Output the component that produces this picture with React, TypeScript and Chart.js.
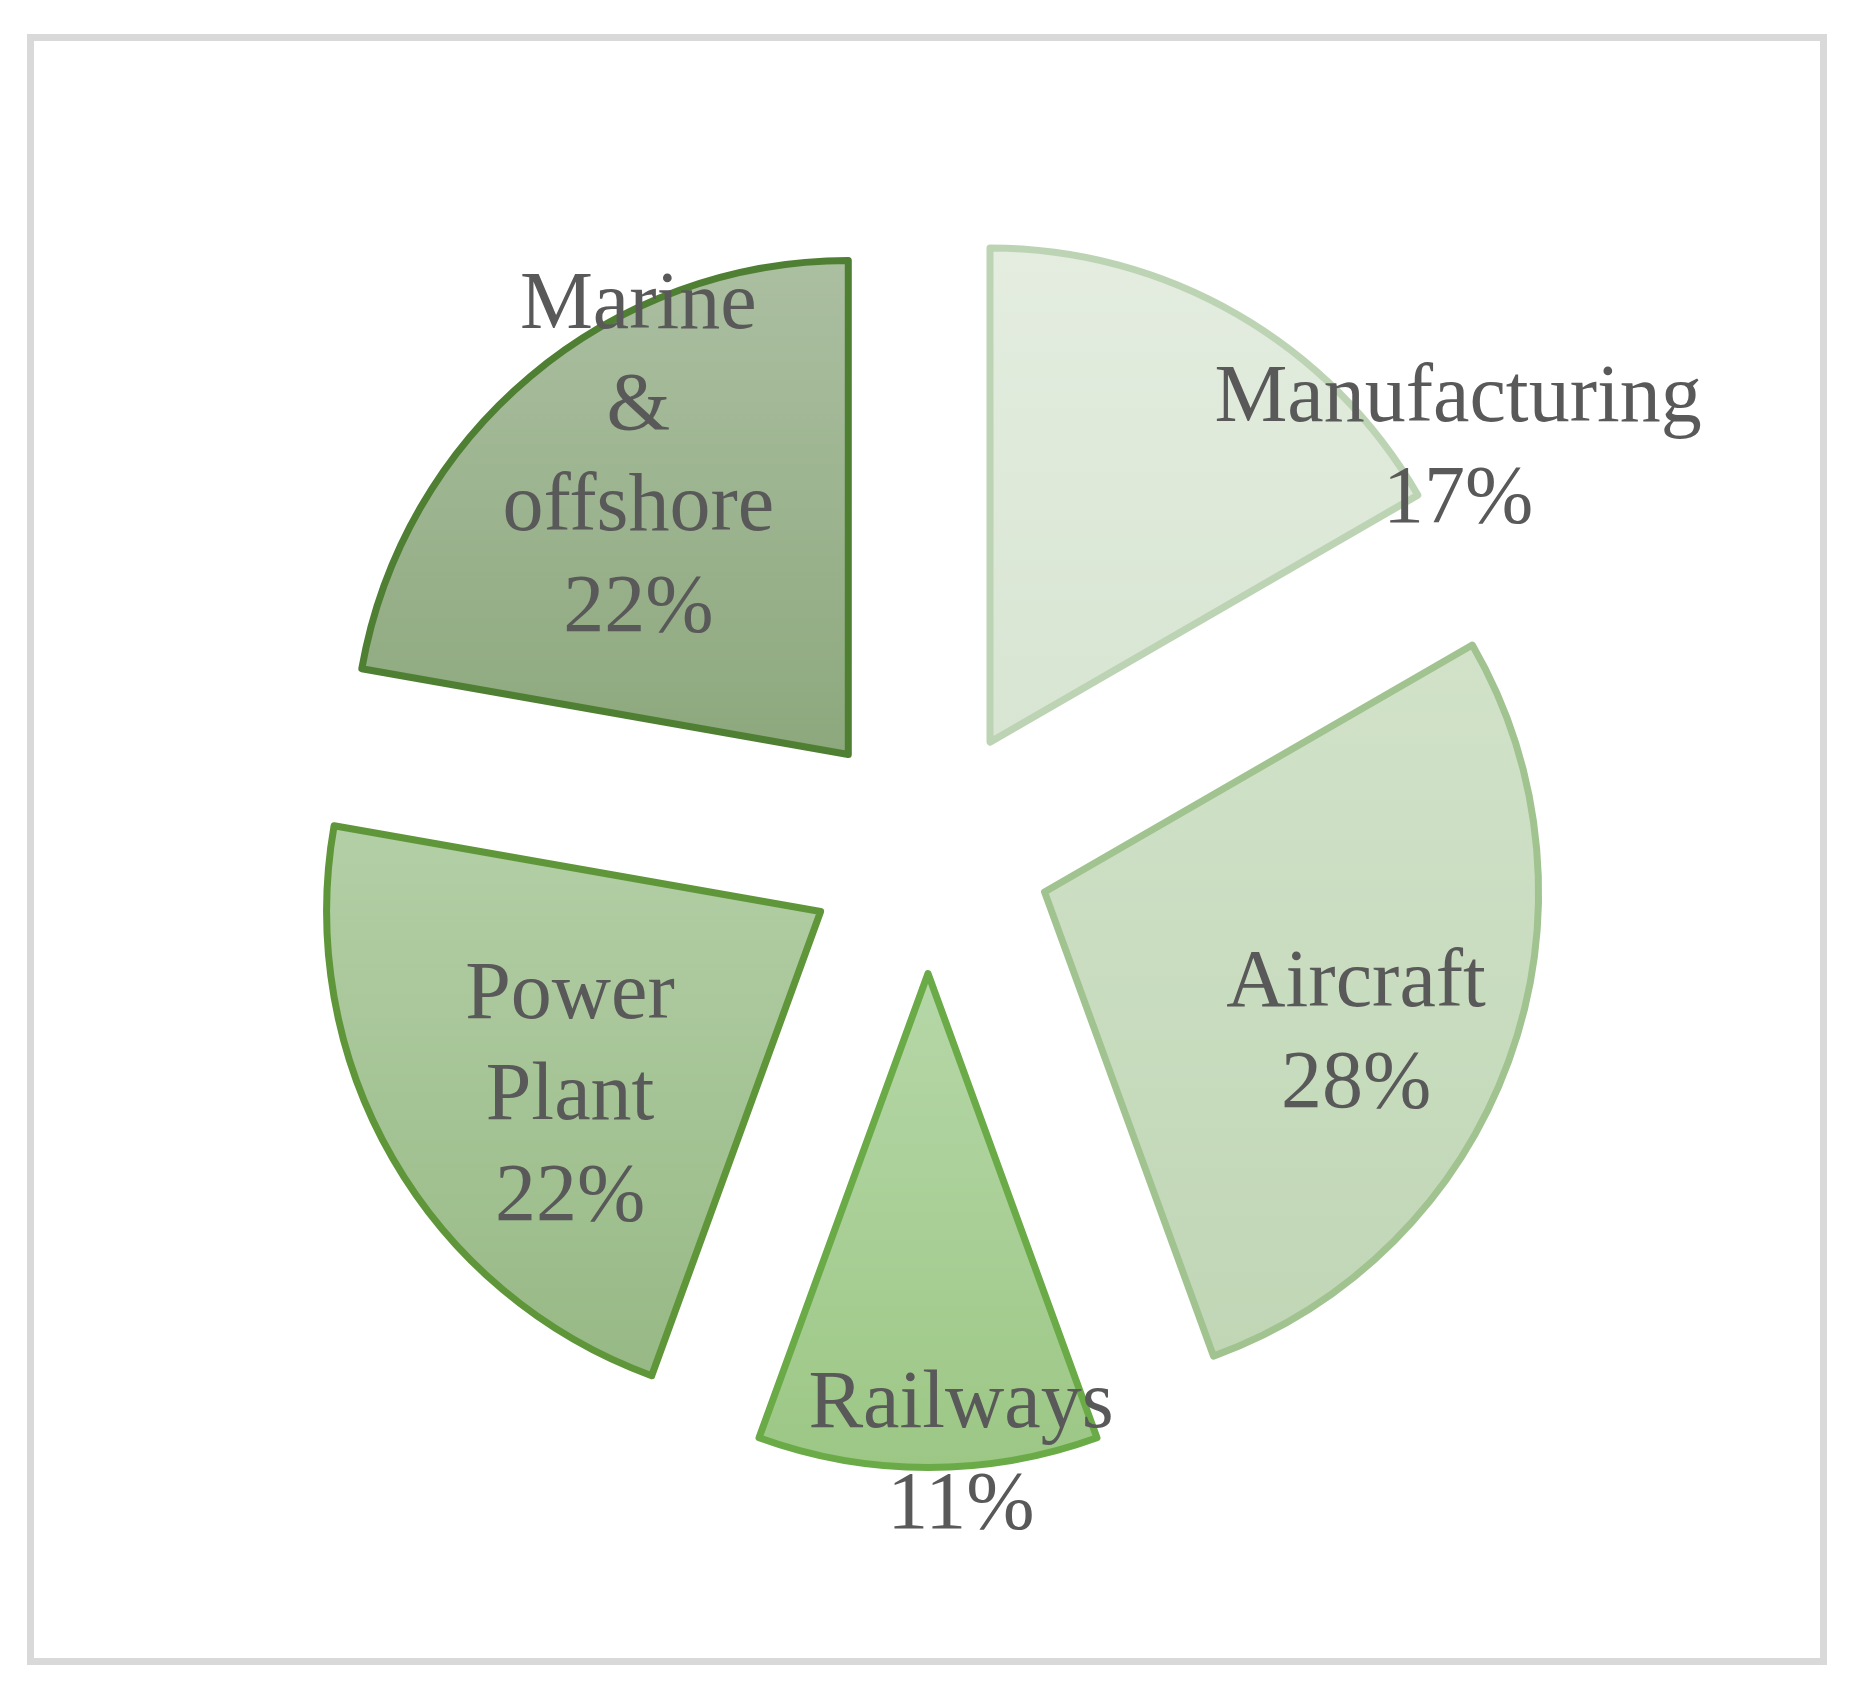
import React, { useEffect, useRef } from "react";
import { Chart, registerables } from "chart.js";

Chart.register(...registerables);

// ---- data ----
const CATEGORIES = ["Manufacturing", "Aircraft", "Railways", "Power Plant", "Marine & offshore"];
const VALUES = [3, 5, 2, 4, 4];
// how each category label wraps inside the chart
const LABEL_LINES = [["Manufacturing"], ["Aircraft"], ["Railways"], ["Power", "Plant"], ["Marine", "&", "offshore"]];

// ---- styles ----
const FILL_TOP = ["#e4ede0", "#d1e2c9", "#b6d7a8", "#b3cfa6", "#abbfa1"];
const FILL_BOTTOM = ["#d8e5d2", "#c0d6b5", "#9cc785", "#97b985", "#8da87d"];
const BORDER = ["#bdd4b4", "#a1c390", "#6aab48", "#5f9639", "#4f7f32"];
// label anchor relative to each slice's apex: radius fraction, angle (deg)
const LABEL_ANCHOR = [
  { r: 1.121, a: -32.3 },
  { r: 0.691, a: 24.1 },
  { r: 0.972, a: 86.06 },
  { r: 0.627, a: 144.0 },
  { r: 0.741, a: 235.0 },
];

const W = 1864;
const H = 1702;
const PIE_RADIUS = 494;
const EXPLODE = 124;
const FONT_SIZE = 82;
const LINE_H = 101;
const BASE_SHIFT = 25;
const TEXT_COLOR = "#595959";

function sliceBounds(chart: any, i: number) {
  const ca = chart.chartArea;
  if (!ca) return null;
  const cx = (ca.left + ca.right) / 2;
  const cy = (ca.top + ca.bottom) / 2;
  const total = VALUES.reduce((a, b) => a + b, 0);
  let s = -Math.PI / 2;
  for (let j = 0; j < i; j++) s += (VALUES[j] / total) * 2 * Math.PI;
  const e = s + (VALUES[i] / total) * 2 * Math.PI;
  const m = (s + e) / 2;
  const ay = cy + Math.sin(m) * EXPLODE;
  const ys = [ay, ay + PIE_RADIUS * Math.sin(s), ay + PIE_RADIUS * Math.sin(e)];
  for (const k of [-Math.PI / 2, Math.PI / 2, (3 * Math.PI) / 2]) {
    if (k > s && k < e) ys.push(ay + PIE_RADIUS * Math.sin(k));
  }
  return { top: Math.min(...ys), bottom: Math.max(...ys) };
}

const framePlugin = {
  id: "frame",
  beforeDraw(chart: any) {
    const ctx = chart.ctx;
    ctx.save();
    ctx.fillStyle = "#ffffff";
    ctx.fillRect(0, 0, chart.width, chart.height);
    ctx.strokeStyle = "#d9d9d9";
    ctx.lineWidth = 7;
    ctx.strokeRect(30.5, 37.5, 1793, 1624);
    ctx.restore();
  },
};

const explodePlugin = {
  id: "explode",
  afterDatasetUpdate(chart: any, args: any) {
    const meta = args.meta;
    meta.data.forEach((arc: any) => {
      const m = (arc.startAngle + arc.endAngle) / 2;
      arc.x += Math.cos(m) * EXPLODE;
      arc.y += Math.sin(m) * EXPLODE;
    });
  },
};

const labelPlugin = {
  id: "sliceLabels",
  afterDatasetsDraw(chart: any) {
    const ctx = chart.ctx;
    const meta = chart.getDatasetMeta(0);
    const total = VALUES.reduce((a, b) => a + b, 0);
    ctx.save();
    ctx.font = `${FONT_SIZE}px "Liberation Serif", "Times New Roman", serif`;
    ctx.fillStyle = TEXT_COLOR;
    ctx.textAlign = "center";
    ctx.textBaseline = "alphabetic";
    meta.data.forEach((arc: any, i: number) => {
      const anc = LABEL_ANCHOR[i];
      const ang = (anc.a * Math.PI) / 180;
      const rr = anc.r * arc.outerRadius;
      const x = arc.x + Math.cos(ang) * rr;
      const y = arc.y + Math.sin(ang) * rr;
      const pct = Math.round((VALUES[i] / total) * 100) + "%";
      const lines = [...LABEL_LINES[i], pct];
      lines.forEach((ln, k) => {
        ctx.fillText(ln, x, y + BASE_SHIFT + (k - (lines.length - 1) / 2) * LINE_H);
      });
    });
    ctx.restore();
  },
};

export default function App() {
  const canvasRef = useRef<HTMLCanvasElement | null>(null);

  useEffect(() => {
    const canvas = canvasRef.current;
    if (!canvas) return;
    const chart = new Chart(canvas, {
      type: "pie",
      data: {
        labels: CATEGORIES,
        datasets: [
          {
            data: VALUES,
            radius: PIE_RADIUS,
            backgroundColor: (c: any) => {
              const i = c.dataIndex;
              if (c.type !== "data" || i === undefined) return FILL_BOTTOM[0];
              const b = sliceBounds(c.chart, i);
              if (!b) return FILL_BOTTOM[i];
              const g = c.chart.ctx.createLinearGradient(0, b.top, 0, b.bottom);
              g.addColorStop(0, FILL_TOP[i]);
              g.addColorStop(1, FILL_BOTTOM[i]);
              return g;
            },
            borderColor: BORDER,
            borderWidth: 7,
            borderJoinStyle: "round",
            borderAlign: "center",
          } as any,
        ],
      },
      options: {
        responsive: false,
        animation: false,
        devicePixelRatio: 1,
        events: [],
        layout: { padding: { left: 0, right: 8, top: 0, bottom: 3 } },
        plugins: {
          legend: { display: false },
          tooltip: { enabled: false },
        },
      } as any,
      plugins: [framePlugin, explodePlugin, labelPlugin],
    });
    return () => chart.destroy();
  }, []);

  return (
    <div style={{ position: "absolute", left: 0, top: 0, width: W, height: H }}>
      <canvas ref={canvasRef} width={W} height={H} style={{ display: "block", width: W, height: H }} />
    </div>
  );
}
